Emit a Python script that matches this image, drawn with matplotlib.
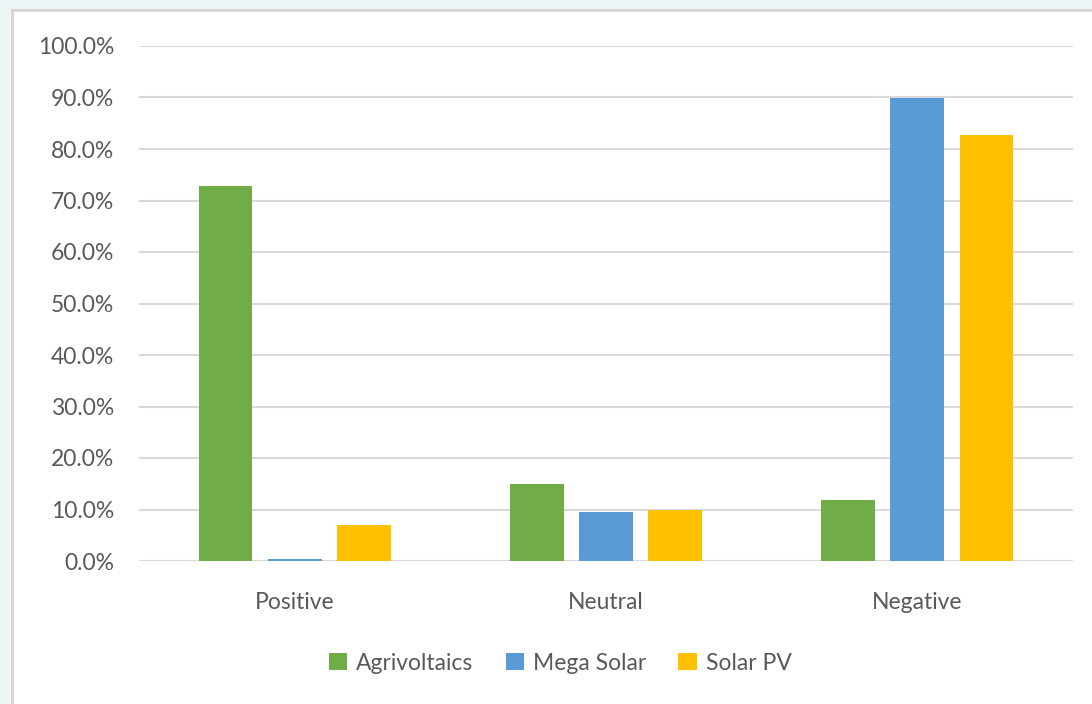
import numpy as np
import matplotlib.pyplot as plt
from matplotlib.patches import Rectangle

categories = ['Positive', 'Neutral', 'Negative']
agrivoltaics = [72.8, 15.0, 11.8]
mega_solar = [0.4, 9.5, 89.9]
solar_pv = [7.0, 9.9, 82.7]
series_names = ['Agrivoltaics', 'Mega Solar', 'Solar PV']
colors = ['#70ad47', '#5b9bd5', '#ffc000']
yticks = np.arange(0, 101, 10)

plt.rcParams['font.family'] = ['Lato', 'DejaVu Sans']
text_color = '#595959'

fig = plt.figure(figsize=(10.92, 7.04), dpi=100)
fig.patch.set_facecolor('#eef5f7')

# white chart panel with grey border, kept behind the axes
fig.patches.append(Rectangle((11.5 / 1092, -0.05), 1.1, 1 - 9.5 / 704 + 0.05,
                             transform=fig.transFigure, facecolor='white',
                             edgecolor='#d4d4d4', linewidth=2, zorder=-10))

ax = fig.add_axes([139 / 1092, 1 - 561 / 704, 934 / 1092, 515 / 704])
ax.set_facecolor('none')

x = np.arange(len(categories))
width = 0.173
step = 0.222
for i, (vals, name, c) in enumerate(zip([agrivoltaics, mega_solar, solar_pv], series_names, colors)):
    ax.bar(x + (i - 1) * step, vals, width, color=c, label=name, zorder=3)

ax.set_xlim(-0.5, 2.5)
ax.set_ylim(0, 100)
ax.set_yticks(yticks)
ax.set_yticklabels([f'{v:.1f}%' for v in yticks])
ax.set_xticks(x)
ax.set_xticklabels(categories)
ax.tick_params(axis='both', length=0, labelsize=16.5, labelcolor=text_color)
ax.tick_params(axis='y', pad=18)
ax.tick_params(axis='x', pad=22)
ax.grid(axis='y', color='#d9d9d9', linewidth=1.5, zorder=0)
for s in ax.spines.values():
    s.set_visible(False)

handles, labels = ax.get_legend_handles_labels()
fig.legend(handles, labels, loc='center', bbox_to_anchor=(0.513, 1 - 663 / 704),
           ncol=3, frameon=False, fontsize=16.5, labelcolor=text_color,
           handlelength=0.8, handleheight=0.8, handletextpad=0.4, columnspacing=1.4)

fig.savefig('out.png', dpi=100)
